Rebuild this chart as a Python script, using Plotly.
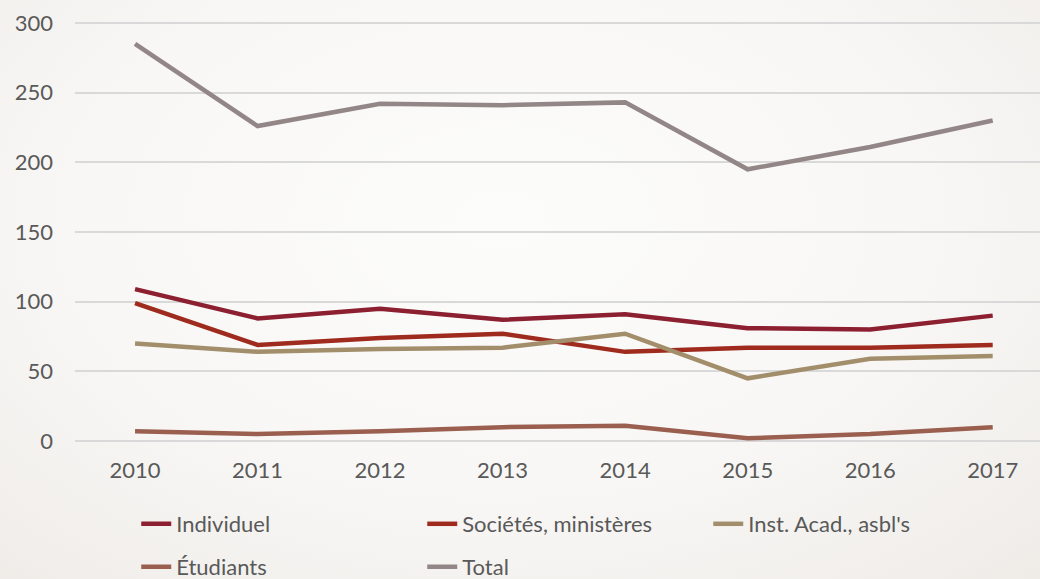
import plotly.graph_objects as go

years = [2010, 2011, 2012, 2013, 2014, 2015, 2016, 2017]
individuel = [109, 88, 95, 87, 91, 81, 80, 90]
societes = [99, 69, 74, 77, 64, 67, 67, 69]
inst_acad = [70, 64, 66, 67, 77, 45, 59, 61]
etudiants = [7, 5, 7, 10, 11, 2, 5, 10]
total = [285, 226, 242, 241, 243, 195, 211, 230]

series = [
    ("Individuel", individuel, "#8c1f30", "legend"),
    ("Sociétés, ministères", societes, "#9e2b1d", "legend"),
    ("Inst. Acad., asbl's", inst_acad, "#a38e6b", "legend"),
    ("Étudiants", etudiants, "#9a5f4f", "legend2"),
    ("Total", total, "#938686", "legend2"),
]

FONT = "Lato"
fig = go.Figure()
for name, vals, col, lg in series:
    fig.add_trace(go.Scatter(x=years, y=vals, mode="lines", name=name,
                             line=dict(color=col, width=4.5), legend=lg))

legend_common = dict(orientation="h", xref="container", yref="container",
                     x=0.131, xanchor="left", yanchor="middle",
                     entrywidth=241, entrywidthmode="pixels",
                     font=dict(family=FONT, size=22, color="#595959"),
                     bgcolor="rgba(0,0,0,0)", borderwidth=0)

fig.update_layout(
    width=1040, height=579,
    paper_bgcolor="rgba(0,0,0,0)", plot_bgcolor="rgba(0,0,0,0)",
    margin=dict(l=75, r=0, t=9, b=124, autoexpand=False),
    showlegend=True,
    legend=dict(**legend_common, y=1 - 524 / 579),
    legend2=dict(**legend_common, y=1 - 567 / 579),
    xaxis=dict(range=[2009.51, 2017.386], tickvals=years, showgrid=False,
               zeroline=False, showline=False,
               tickfont=dict(family=FONT, size=22, color="#595959")),
    yaxis=dict(range=[-10, 310], tickvals=[0, 50, 100, 150, 200, 250, 300],
               showgrid=True, gridcolor="#d9d9d9", gridwidth=1.5,
               zeroline=False, showline=False, ticklabelstandoff=21,
               tickfont=dict(family=FONT, size=22, color="#595959")),
)

fig.write_html("out.html", config={"displayModeBar": False})
with open("out.html", encoding="utf-8") as f:
    html = f.read()
body_style = ("margin:0;padding:0;overflow:hidden;"
              "background:radial-gradient(ellipse 75% 85% at 48% 38%, "
              "#fcfcfb 0%, #f8f7f5 55%, #efece8 100%);")
html = html.replace("<body>", f'<body style="{body_style}">', 1)
with open("out.html", "w", encoding="utf-8") as f:
    f.write(html)
